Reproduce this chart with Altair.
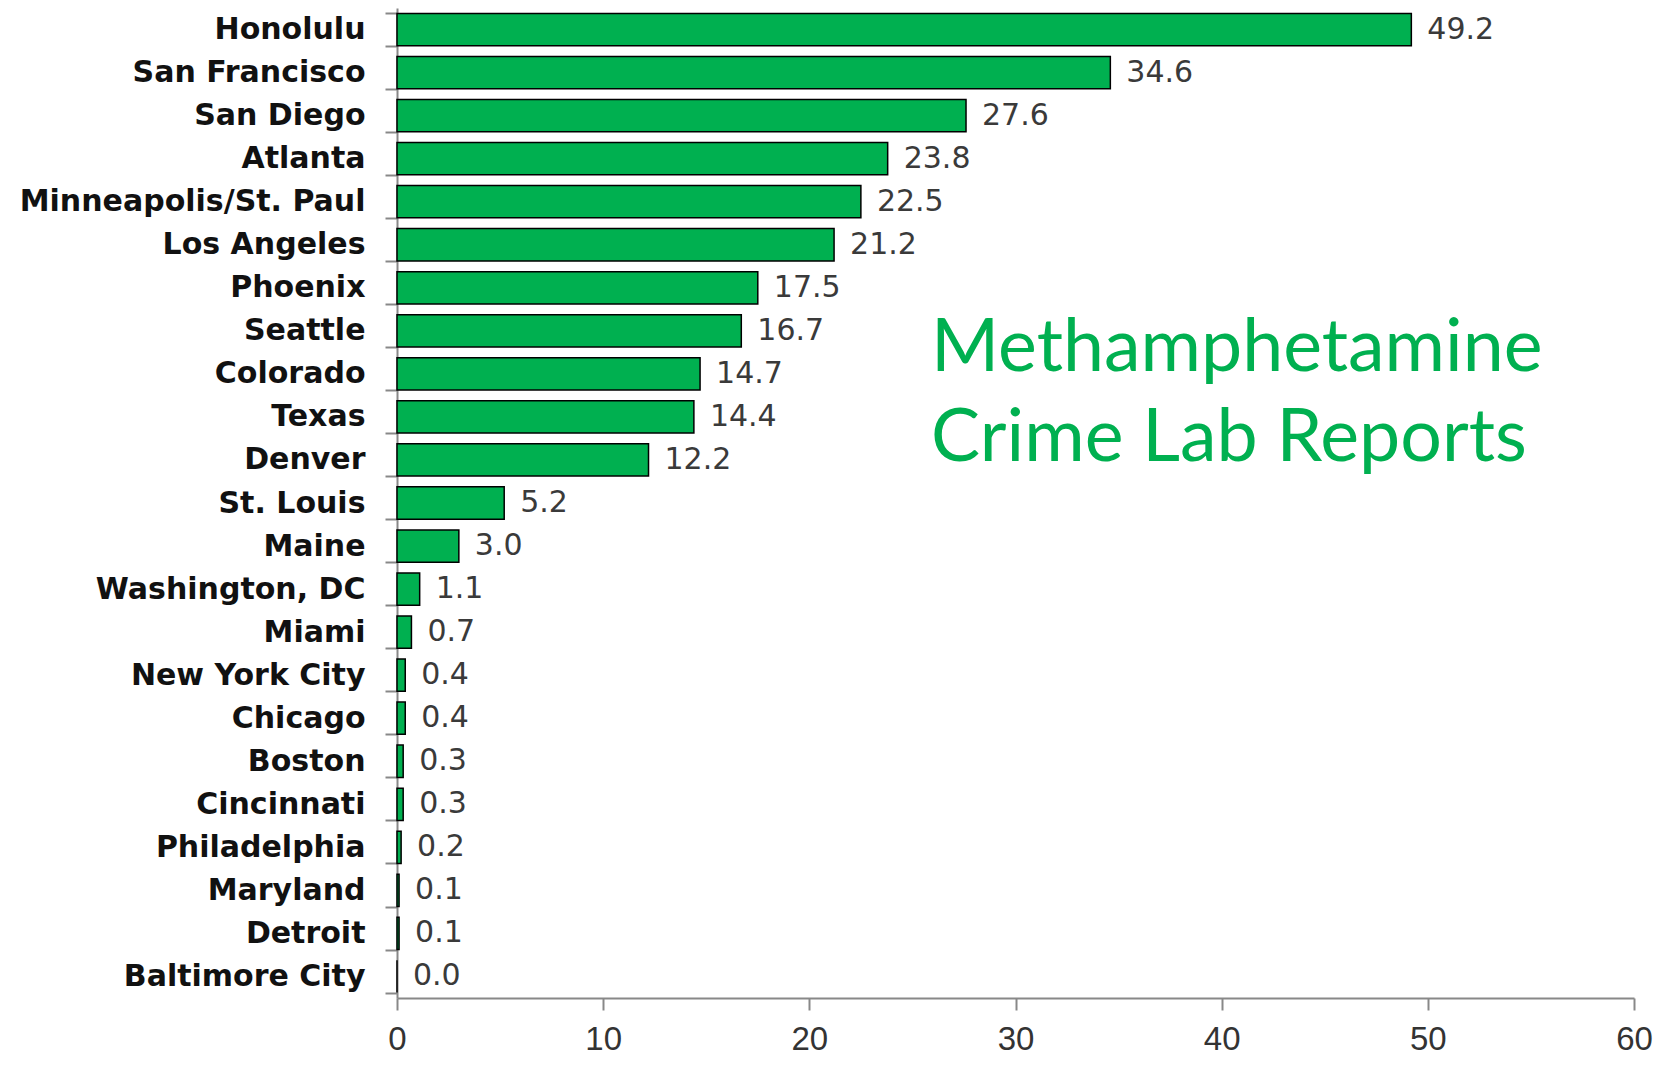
import altair as alt
import pandas as pd

cities = ["Honolulu", "San Francisco", "San Diego", "Atlanta", "Minneapolis/St. Paul",
          "Los Angeles", "Phoenix", "Seattle", "Colorado", "Texas", "Denver", "St. Louis",
          "Maine", "Washington, DC", "Miami", "New York City", "Chicago", "Boston",
          "Cincinnati\u00a0", "Philadelphia", "Maryland", "Detroit", "Baltimore City"]
values = [49.2, 34.6, 27.6, 23.8, 22.5, 21.2, 17.5, 16.7, 14.7, 14.4, 12.2, 5.2,
          3.0, 1.1, 0.7, 0.4, 0.4, 0.3, 0.3, 0.2, 0.1, 0.1, 0.0]
x_ticks = [0, 10, 20, 30, 40, 50, 60]

title_lines = ["Methamphetamine", "Crime Lab Reports"]
title_x = [25.9]
title_y = ["Colorado"]

GREEN = "#00B050"

df = pd.DataFrame({"city": cities, "value": values})
df_title = pd.DataFrame({"label": ["\n".join(title_lines)], "x": title_x, "y": title_y})

x_scale = alt.Scale(domain=[0, 60], nice=False, zero=True)
y_scale = alt.Scale(domain=cities, paddingInner=0.25, paddingOuter=0.125)

base = alt.Chart(df)

bars = base.mark_bar(color=GREEN, stroke="#000000", strokeWidth=1.5).encode(
    x=alt.X("value:Q", scale=x_scale,
            axis=alt.Axis(values=x_ticks, title=None, grid=False, tickSize=12,
                          labelPadding=13, labelFlush=False, labelFont="Liberation Sans",
                          labelFontSize=33, labelColor="#333333", domainColor="#888888",
                          tickColor="#888888", domainWidth=2, tickWidth=2)),
    y=alt.Y("city:N", scale=y_scale, sort=cities,
            axis=alt.Axis(title=None, tickBand="extent", tickSize=12, labelPadding=20,
                          labelFont="DejaVu Sans", labelFontWeight="bold", labelFontSize=30,
                          labelColor="#111111", domainColor="#888888", tickColor="#888888",
                          domainWidth=2, tickWidth=2, labelLimit=600, grid=False)),
)

labels = base.mark_text(align="left", baseline="middle", dx=16, font="DejaVu Sans",
                        fontSize=30, color="#3a3a3a").encode(
    x=alt.X("value:Q", scale=x_scale),
    y=alt.Y("city:N", scale=y_scale, sort=cities),
    text=alt.Text("value:Q", format=".1f"),
)

title = alt.Chart(df_title).mark_text(align="left", baseline="alphabetic", dy=-3,
                                      font="Lato", fontSize=73.5, color=GREEN,
                                      lineBreak="\n", lineHeight=90).encode(
    x=alt.X("x:Q", scale=x_scale),
    y=alt.Y("y:N", scale=y_scale, sort=cities),
    text="label:N",
)

chart = alt.layer(bars, labels, title).properties(
    width=1237, height=990,
    background="white",
    autosize=alt.AutoSizeParams(type="none"),
    padding={"left": 389, "top": 0, "right": 30, "bottom": 66},
).configure_view(stroke=None, strokeWidth=0)

chart.save("out.html", embed_options={"renderer": "svg", "actions": False})
